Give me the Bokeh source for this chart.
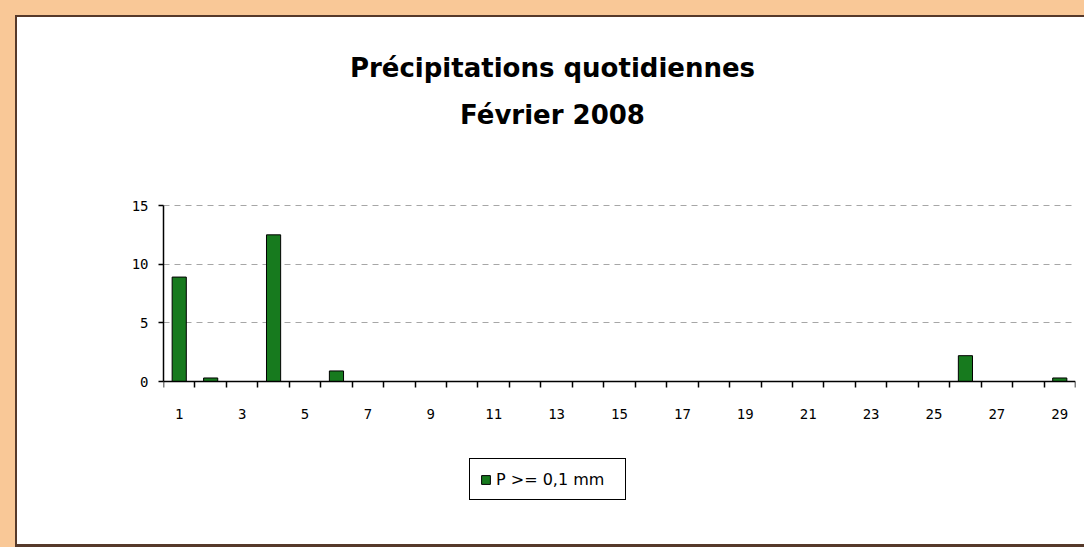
from bokeh.plotting import figure
from bokeh.models import (ColumnDataSource, FixedTicker, Label, Legend, LegendItem)
from bokeh.embed import file_html
from bokeh.resources import INLINE

# ---- data ----
days = [1, 2, 4, 6, 26, 29]
rain_mm = [8.9, 0.3, 12.5, 0.9, 2.2, 0.3]
x_tick_days = [1, 3, 5, 7, 9, 11, 13, 15, 17, 19, 21, 23, 25, 27, 29]
y_ticks = [0, 5, 10, 15]
title_lines = ["Précipitations quotidiennes", "Février 2008"]
series_label = "P >= 0,1 mm"
n_days = 29

PEACH = "#F9C897"
BROWN = "#56392A"
GREEN = "#177A1E"

# geometry: 0 mm at y=381px, 15 mm at y=205px; frame spans y 20..502px
FRAME_TOP, FRAME_BOTTOM = 20, 502
PX_PER_MM = (381 - 205) / 15.0
y_lo = -(FRAME_BOTTOM - 381) / PX_PER_MM
y_hi = 15 + (205 - FRAME_TOP) / PX_PER_MM

src = ColumnDataSource(dict(day=days, rain=rain_mm))

p = figure(width=1084, height=547, output_backend="svg", toolbar_location=None,
           x_range=(0.5, n_days + 0.5), y_range=(y_lo, y_hi),
           min_border_left=163, min_border_right=9,
           min_border_top=FRAME_TOP, min_border_bottom=547 - FRAME_BOTTOM,
           title=None)
p.outline_line_color = None
p.background_fill_color = "white"
p.border_fill_color = None
p.styles = {
    "background-color": "white",
    "box-shadow": (f"inset 15px 15px 0 0 {PEACH}, "
                   f"inset 17px 17px 0 0 {BROWN}, "
                   f"inset 0 -3px 0 0 {BROWN}"),
}

bars = p.vbar(x="day", top="rain", width=0.45, source=src,
              fill_color=GREEN, line_color="black", line_width=1)

# x axis: labels at odd days, tick marks at day boundaries, drawn at y = 0
xa = p.xaxis[0]
xa.fixed_location = 0
xa.ticker = FixedTicker(ticks=x_tick_days,
                        minor_ticks=[d + 0.5 for d in range(0, n_days + 1)])
xa.major_tick_out = 0
xa.major_tick_in = 0
xa.minor_tick_out = 6
xa.minor_tick_in = 0
xa.minor_tick_line_color = "black"
xa.axis_line_color = "black"
xa.axis_line_width = 1.5
xa.minor_tick_line_width = 1.5
xa.major_label_standoff = 21
xa.major_label_text_font = "DejaVu Sans Mono"
xa.major_label_text_font_size = "14px"
xa.major_label_text_color = "black"

ya = p.yaxis[0]
ya.bounds = (0, 15)
ya.ticker = FixedTicker(ticks=y_ticks)
ya.major_tick_out = 5
ya.major_tick_in = 0
ya.minor_tick_out = 0
ya.minor_tick_in = 0
ya.axis_line_color = "black"
ya.axis_line_width = 1.5
ya.major_tick_line_width = 1.5
ya.major_label_standoff = 10
ya.major_label_text_font = "DejaVu Sans Mono"
ya.major_label_text_font_size = "14px"
ya.major_label_text_color = "black"

p.xgrid.visible = False
p.ygrid.ticker = FixedTicker(ticks=y_ticks)
p.ygrid.grid_line_color = "#a6a6a6"
p.ygrid.grid_line_dash = "6 5"
p.ygrid.grid_line_width = 1

# two-line title (screen units from the frame's bottom-left corner)
for txt, baseline in zip(title_lines, [67, 114]):
    p.add_layout(Label(x=552 - 163, y=FRAME_BOTTOM - baseline,
                       x_units="screen", y_units="screen",
                       text=txt, text_align="center", text_baseline="alphabetic",
                       text_font="DejaVu Sans", text_font_style="bold",
                       text_font_size="26px", text_color="black"))

legend = Legend(items=[LegendItem(label=series_label, renderers=[bars])],
                location=(469 - 163, FRAME_BOTTOM - 500), orientation="vertical",
                border_line_color="black", border_line_width=1.5,
                border_line_alpha=1.0,
                background_fill_color="white", background_fill_alpha=1.0,
                padding=10, spacing=0, margin=0,
                glyph_width=11, glyph_height=11, label_standoff=5,
                label_width=119, label_height=20,
                label_text_font="DejaVu Sans", label_text_font_size="16px",
                label_text_color="black")
p.add_layout(legend, "center")

open("out.html", "w").write(file_html(p, INLINE))
